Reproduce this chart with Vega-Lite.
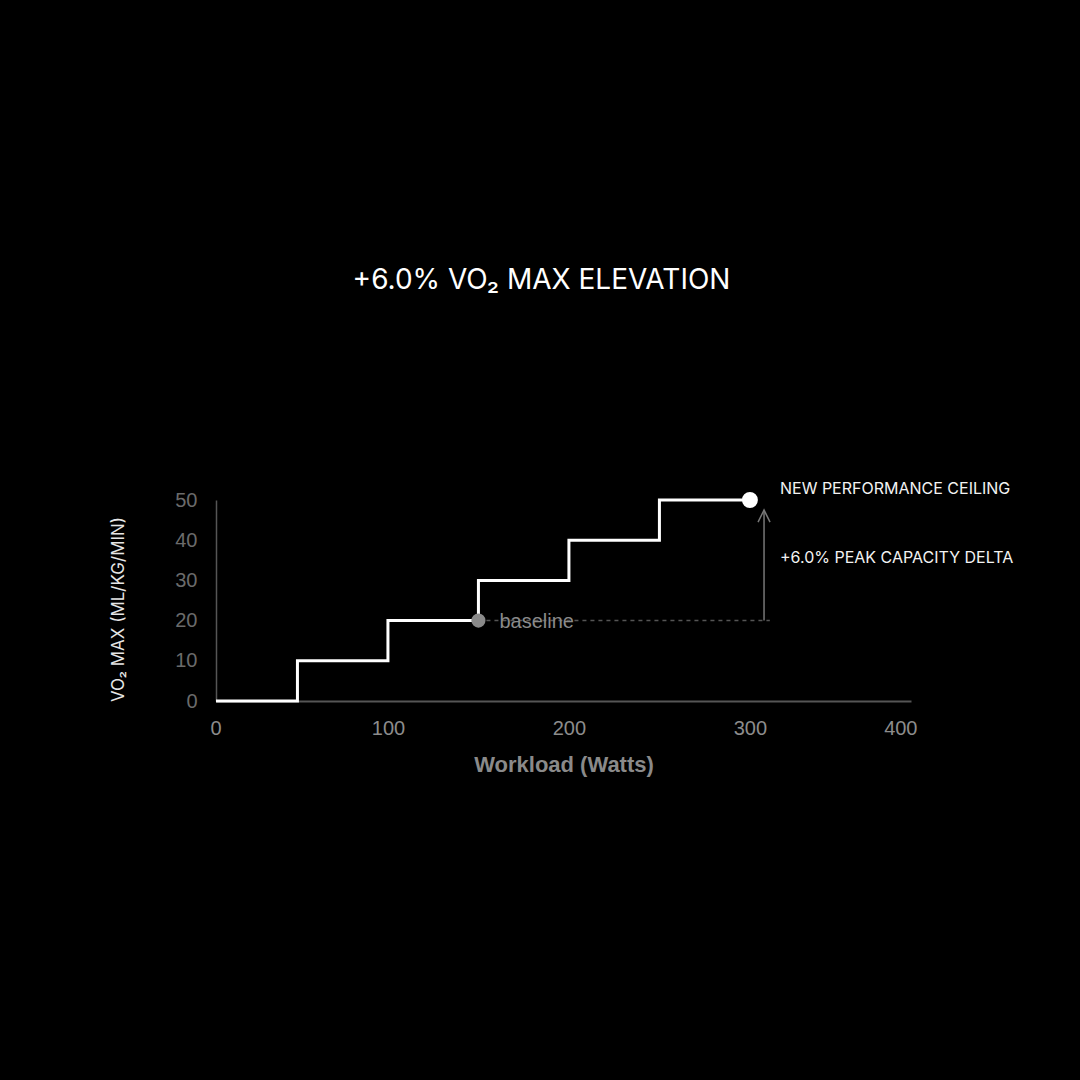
{
  "$schema": "https://vega.github.io/schema/vega-lite/v6.json",
  "width": 695,
  "height": 201,
  "autosize": "none",
  "padding": {"left": 216, "top": 500, "right": 169, "bottom": 379},
  "background": "#000000",
  "config": {"view": {"stroke": null}},
  "title": {
    "text": "+6.0% VO₂ MAX ELEVATION",
    "font": "Inter",
    "fontSize": 28,
    "fontWeight": 400,
    "color": "#ffffff",
    "anchor": "middle",
    "frame": "group",
    "baseline": "alphabetic",
    "offset": 164,
    "dx": -22
  },
  "datasets": {
    "curve": [
      {"watts": 0, "vo2": 0},
      {"watts": 50, "vo2": 10},
      {"watts": 100, "vo2": 20},
      {"watts": 150, "vo2": 30},
      {"watts": 200, "vo2": 40},
      {"watts": 250, "vo2": 50},
      {"watts": 300, "vo2": 50}
    ],
    "guide": [{"watts": 150, "watts_end": 311, "vo2": 20}],
    "arrow": [{"watts": 307.8, "vo2": 20, "vo2_end": 47.5}],
    "arrowhead": [{"watts": 307.8, "vo2": 47.5}],
    "baseline": [{"watts": 150, "vo2": 20, "label": "baseline"}],
    "ceiling": [{"watts": 300, "vo2": 50}],
    "notes": [
      {"watts": 316.6, "vo2": 52.7, "label": "NEW PERFORMANCE CEILING"},
      {"watts": 316.6, "vo2": 35.6, "label": "+6.0% PEAK CAPACITY DELTA"}
    ]
  },
  "encoding": {
    "x": {
      "field": "watts",
      "type": "quantitative",
      "scale": {"domain": [5, 389], "nice": false, "zero": false, "clamp": true},
      "axis": {
        "values": [0, 100, 200, 300, 400],
        "grid": false,
        "ticks": false,
        "tickSize": 0,
        "labelFlush": true,
        "labelFlushOffset": 6,
        "domainColor": "#555555",
        "domainWidth": 2,
        "labelColor": "#8c8c8c",
        "labelFont": "Liberation Sans",
        "labelFontSize": 20,
        "labelPadding": 17,
        "title": "Workload (Watts)",
        "titleFont": "Liberation Sans",
        "titleFontSize": 22,
        "titleFontWeight": "bold",
        "titleColor": "#8a8a8a",
        "titlePadding": 16
      }
    },
    "y": {
      "field": "vo2",
      "type": "quantitative",
      "scale": {"domain": [0, 50], "nice": false, "zero": true},
      "axis": {
        "values": [0, 10, 20, 30, 40, 50],
        "grid": false,
        "ticks": false,
        "tickSize": 0,
        "domainColor": "#555555",
        "domainWidth": 1.5,
        "labelColor": "#6b6b6b",
        "labelFont": "Liberation Sans",
        "labelFontSize": 20,
        "labelPadding": 19,
        "title": "VO₂ MAX (ML/KG/MIN)",
        "titleFont": "Inter",
        "titleFontSize": 17,
        "titleFontWeight": 400,
        "titleColor": "#e6e6e6",
        "titleAngle": -90,
        "titleAlign": "center",
        "titleBaseline": "middle",
        "titleX": -98,
        "titleY": 109
      }
    }
  },
  "layer": [
    {
      "data": {"name": "guide"},
      "mark": {"type": "rule", "color": "#555555", "strokeWidth": 1.5, "strokeDash": [4, 4]},
      "encoding": {"x2": {"field": "watts_end"}}
    },
    {
      "data": {"name": "arrow"},
      "mark": {"type": "rule", "color": "#777777", "strokeWidth": 1.5},
      "encoding": {"y2": {"field": "vo2_end"}}
    },
    {
      "data": {"name": "arrowhead"},
      "mark": {"type": "point", "shape": "M-1,2L0,0L1,2", "size": 144, "filled": false, "stroke": "#777777", "strokeWidth": 1.5, "opacity": 1}
    },
    {
      "data": {"name": "curve"},
      "mark": {"type": "line", "interpolate": "step-after", "color": "#ffffff", "strokeWidth": 3}
    },
    {
      "data": {"name": "baseline"},
      "mark": {"type": "point", "shape": "circle", "filled": true, "size": 200, "color": "#8a8a8a", "opacity": 1}
    },
    {
      "data": {"name": "baseline"},
      "mark": {"type": "text", "align": "left", "baseline": "middle", "dx": 21, "dy": 1, "font": "Liberation Sans", "fontSize": 20, "color": "#8a8a8a"},
      "encoding": {"text": {"field": "label"}}
    },
    {
      "data": {"name": "ceiling"},
      "mark": {"type": "point", "shape": "circle", "filled": true, "size": 254, "color": "#ffffff", "opacity": 1}
    },
    {
      "data": {"name": "notes"},
      "mark": {"type": "text", "align": "left", "baseline": "middle", "font": "Inter", "fontSize": 16, "color": "#f2f2f2"},
      "encoding": {"text": {"field": "label"}}
    }
  ]
}
